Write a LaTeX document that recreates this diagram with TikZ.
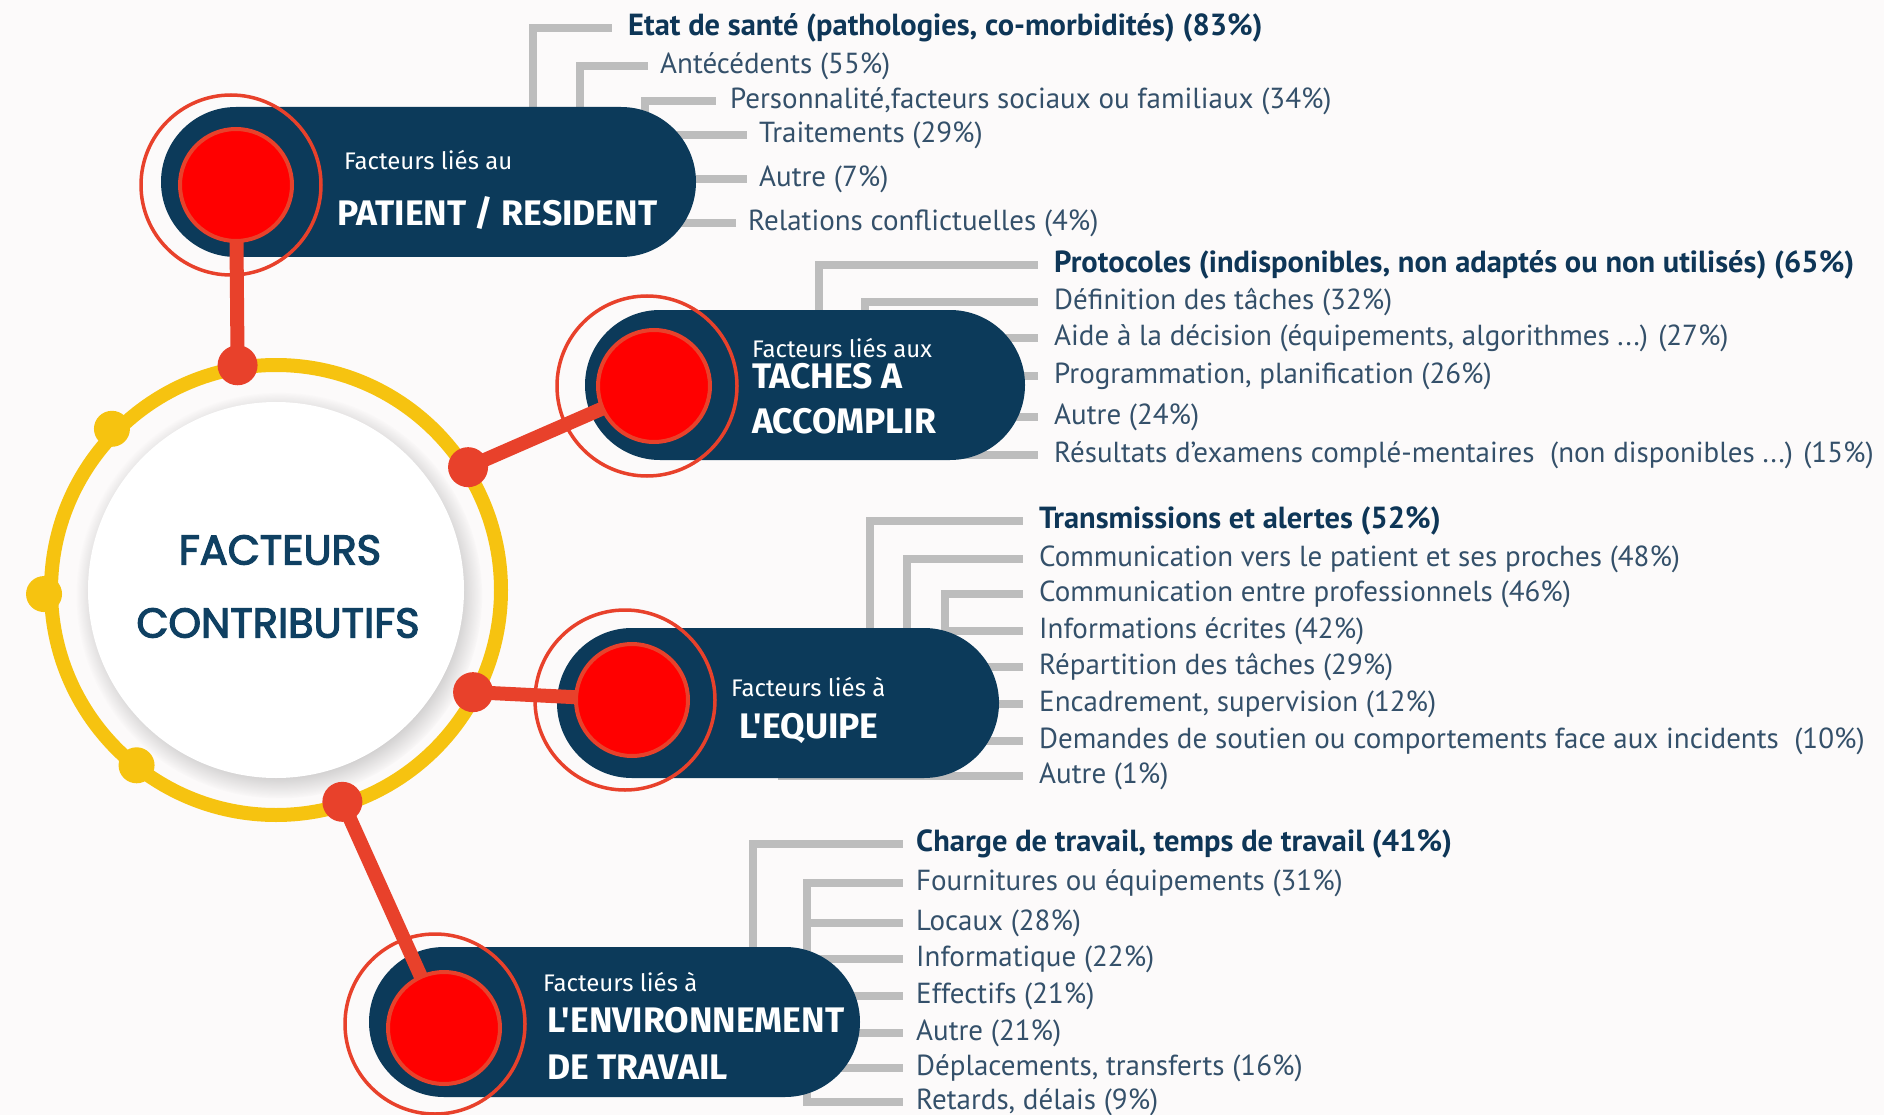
\documentclass[tikz,border=0pt]{standalone}
\usepackage{fontspec}
\setmainfont{PT Sans}
\newfontfamily\boxfont{Fira Sans}
\newfontfamily\hubfont[FakeBold=3]{Poppins}
\usepackage{tikz}
\usetikzlibrary{shapes.misc}
\usetikzlibrary{shadows}
\definecolor{paper}{HTML}{FCFAFA}
\definecolor{navy}{HTML}{0C3A5A}
\definecolor{itemtext}{HTML}{34506A}
\definecolor{leadtext}{HTML}{0E3657}
\definecolor{hubtext}{HTML}{0F4062}
\definecolor{bargray}{HTML}{BDBDBD}
\definecolor{redline}{HTML}{E8412B}
\definecolor{purered}{HTML}{FF0000}
\definecolor{ringyellow}{HTML}{F6C310}
\newcommand{\itemsize}{\fontsize{29}{32}\selectfont}
\newcommand{\leadsize}{\fontsize{30.5}{33}\selectfont\bfseries}
\newcommand{\smallbox}{\boxfont\fontsize{24}{28}\selectfont}
\newcommand{\bigbox}{\boxfont\bfseries\fontsize{35.5}{38}\selectfont}
\newcommand{\hubsize}{\hubfont\fontsize{41.5}{44}\selectfont}

\tikzset{
    pill/.style={shape=rounded rectangle, fill=navy, minimum height=150pt, inner sep=0pt},
    disc/.style={shape=circle, fill=purered, draw=redline, line width=4pt, minimum size=112pt, inner sep=0pt},
    halo/.style={shape=circle, draw=redline, line width=3.5pt, minimum size=180pt, inner sep=0pt},
    link/.style={draw=redline, line width=14pt},
    bar/.style={draw=bargray, line width=8pt},
    rdot/.style={shape=circle, fill=redline, minimum size=40pt, inner sep=0pt},
    ydot/.style={shape=circle, fill=ringyellow, minimum size=36pt, inner sep=0pt},
    entry/.style={anchor=west, inner sep=0pt, text=itemtext, font=\itemsize},
    lead/.style={entry, text=leadtext, font=\leadsize},
    thin/.style={anchor=west, inner sep=0pt, text=white, font=\smallbox},
    thick/.style={anchor=west, inner sep=0pt, text=white, font=\bigbox},
}

\begin{document}
\begin{tikzpicture}[x=1pt,y=-1pt]
    \useasboundingbox (0,0) rectangle (1884,1115);
    \fill[paper] (0,0) rectangle (1884,1115);

    \node[lead]  (P_1) at (628,28)  {Etat de santé (pathologies, co-morbidités) (83\%)};
    \node[entry] (P_2) at (660,66)  {Antécédents (55\%)};
    \node[entry] (P_3) at (730,101) {Personnalité,facteurs sociaux ou familiaux (34\%)};
    \node[entry] (P_4) at (759,135) {Traitements (29\%)};
    \node[entry] (P_5) at (759,179) {Autre (7\%)};
    \node[entry] (P_6) at (748,223) {Relations conflictuelles (4\%)};

    \node[lead]  (T_1) at (1054,265) {Protocoles (indisponibles, non adaptés ou non utilisés) (65\%)};
    \node[entry] (T_2) at (1054,302) {Définition des tâches (32\%)};
    \node[entry] (T_3) at (1054,338) {Aide à la décision (équipements, algorithmes ...) (27\%)};
    \node[entry] (T_4) at (1054,376) {Programmation, planification (26\%)};
    \node[entry] (T_5) at (1054,417) {Autre (24\%)};
    \node[entry] (T_6) at (1054,455) {Résultats d'examens complé-mentaires~ (non disponibles ...) (15\%)};

    \node[lead]  (Q_1) at (1039,521) {Transmissions et alertes (52\%)};
    \node[entry] (Q_2) at (1039,559) {Communication vers le patient et ses proches (48\%)};
    \node[entry] (Q_3) at (1039,594) {Communication entre professionnels (46\%)};
    \node[entry] (Q_4) at (1039,631) {Informations écrites (42\%)};
    \node[entry] (Q_5) at (1039,667) {Répartition des tâches (29\%)};
    \node[entry] (Q_6) at (1039,704) {Encadrement, supervision (12\%)};
    \node[entry] (Q_7) at (1039,741) {Demandes de soutien ou comportements face aux incidents~ (10\%)};
    \node[entry] (Q_8) at (1039,776) {Autre (1\%)};

    \node[lead]  (W_1) at (916,844)  {Charge de travail, temps de travail (41\%)};
    \node[entry] (W_2) at (916,883)  {Fournitures ou équipements (31\%)};
    \node[entry] (W_3) at (916,923)  {Locaux (28\%)};
    \node[entry] (W_4) at (916,959)  {Informatique (22\%)};
    \node[entry] (W_5) at (916,996)  {Effectifs (21\%)};
    \node[entry] (W_6) at (916,1033) {Autre (21\%)};
    \node[entry] (W_7) at (916,1068) {Déplacements, transferts (16\%)};
    \node[entry] (W_8) at (916,1102) {Retards, délais (9\%)};

    \coordinate (C_PR) at (428.5,182);
    \coordinate (C_TA) at (805,385);
    \coordinate (C_EQ) at (778,703);
    \coordinate (C_ET) at (614.5,1022);

    \draw[bar] ([xshift=104.5pt]C_PR) |- ([xshift=-16pt]P_1.west);
    \draw[bar] ([xshift=151.5pt]C_PR) |- ([xshift=-12pt]P_2.west);
    \draw[bar] ([xshift=216pt]C_PR) |- ([xshift=-14pt]P_3.west);
    \draw[bar] (C_PR |- P_4.west) -- ([xshift=-12pt]P_4.west);
    \draw[bar] (C_PR |- P_5.west) -- ([xshift=-12pt]P_5.west);
    \draw[bar] (C_PR |- P_6.west) -- ([xshift=-12pt]P_6.west);

    \draw[bar] ([xshift=14pt]C_TA) |- ([xshift=-16pt]T_1.west);
    \draw[bar] ([xshift=60pt]C_TA) |- ([xshift=-16pt]T_2.west);
    \draw[bar] (C_TA |- T_3.west) -- ([xshift=-16pt]T_3.west);
    \draw[bar] (C_TA |- T_4.west) -- ([xshift=-16pt]T_4.west);
    \draw[bar] (C_TA |- T_5.west) -- ([xshift=-16pt]T_5.west);
    \draw[bar] (C_TA |- T_6.west) -- ([xshift=-16pt]T_6.west);

    \draw[bar] ([xshift=92pt]C_EQ) |- ([xshift=-16pt]Q_1.west);
    \draw[bar] ([xshift=129pt]C_EQ) |- ([xshift=-16pt]Q_2.west);
    \draw[bar] ([xshift=167pt]C_EQ) |- ([xshift=-16pt]Q_3.west);
    \draw[bar] ([xshift=167pt]C_EQ) |- ([xshift=-16pt]Q_4.west);
    \draw[bar] (C_EQ |- Q_5.west) -- ([xshift=-16pt]Q_5.west);
    \draw[bar] (C_EQ |- Q_6.west) -- ([xshift=-16pt]Q_6.west);
    \draw[bar] (C_EQ |- Q_7.west) -- ([xshift=-16pt]Q_7.west);
    \draw[bar] (C_EQ |- Q_8.west) -- ([xshift=-16pt]Q_8.west);

    \draw[bar] ([xshift=138.5pt]C_ET) |- ([xshift=-13pt]W_1.west);
    \draw[bar] ([xshift=192.5pt]C_ET) |- ([xshift=-13pt]W_2.west);
    \draw[bar] ([xshift=192.5pt]C_ET) |- ([xshift=-13pt]W_3.west);
    \draw[bar] ([xshift=192.5pt]C_ET) |- ([xshift=-13pt]W_4.west);
    \draw[bar] ([xshift=192.5pt]C_ET) |- ([xshift=-13pt]W_5.west);
    \draw[bar] ([xshift=192.5pt]C_ET) |- ([xshift=-13pt]W_6.west);
    \draw[bar] ([xshift=192.5pt]C_ET) |- ([xshift=-13pt]W_7.west);
    \draw[bar] ([xshift=192.5pt]C_ET) |- ([xshift=-13pt]W_8.west);

    \node[shape=circle, fill=white, minimum size=376pt, inner sep=0pt,
          circular drop shadow={shadow xshift=3pt, shadow yshift=-5pt, shadow scale=1.08, opacity=0.45}] (F_C) at (276,590) {};
    \draw[draw=ringyellow, line width=14pt] (F_C.center) circle[radius=225pt];
    \node[text=hubtext, font=\hubsize, inner sep=0pt] (H_1) at (280,550) {FACTEURS};
    \node[text=hubtext, font=\hubsize, inner sep=0pt] (H_2) at (278,623) {CONTRIBUTIFS};

    \node[pill, minimum width=535pt] (P_R) at (C_PR) {};
    \node[pill, minimum width=440pt] (T_A) at (C_TA) {};
    \node[pill, minimum width=442pt] (E_Q) at (C_EQ) {};
    \node[pill, minimum width=491pt] (E_T) at (C_ET) {};

    \coordinate (K_1) at ([shift={(99.7:228pt)}]F_C.center);
    \coordinate (K_2) at ([shift={(32.6:228pt)}]F_C.center);
    \coordinate (K_3) at ([shift={(-27.4:222pt)}]F_C.center);
    \coordinate (K_4) at ([shift={(-72.6:222pt)}]F_C.center);
    \coordinate (D_PR) at (236,185);
    \coordinate (D_TA) at (654,386);
    \coordinate (D_EQ) at (632,700);
    \coordinate (D_ET) at (444,1028);

    \draw[link] (K_1) -- (D_PR);
    \draw[link] (K_2) -- (D_TA);
    \draw[link] (K_3) -- (D_EQ);
    \draw[link] (K_4) -- (D_ET);

    \node[halo] (O_PR) at ([xshift=-5pt]D_PR) {};
    \node[halo] (O_TA) at ([xshift=-7pt]D_TA) {};
    \node[halo] (O_EQ) at ([xshift=-7pt]D_EQ) {};
    \node[halo] (O_ET) at ([xshift=-9pt,yshift=4pt]D_ET) {};
    \node[disc] (R_PR) at (D_PR) {};
    \node[disc] (R_TA) at (D_TA) {};
    \node[disc] (R_EQ) at (D_EQ) {};
    \node[disc] (R_ET) at (D_ET) {};

    \node[rdot] (M_1) at (K_1) {};
    \node[rdot] (M_2) at (K_2) {};
    \node[rdot] (M_3) at (K_3) {};
    \node[rdot] (M_4) at (K_4) {};
    \node[ydot] (Y_1) at ([shift={(135.5:230pt)}]F_C.center) {};
    \node[ydot] (Y_2) at ([shift={(181:232pt)}]F_C.center) {};
    \node[ydot] (Y_3) at ([shift={(231.5:224pt)}]F_C.center) {};

    \node[thin]  (L_P1) at (344,160) {Facteurs liés au};
    \node[thick] (L_P2) at (337,213) {PATIENT / RESIDENT};
    \node[thin]  (L_T1) at (752,348) {Facteurs liés aux};
    \node[thick] (L_T2) at (752,376) {TACHES A};
    \node[thick] (L_T3) at (752,421) {ACCOMPLIR};
    \node[thin]  (L_Q1) at (731,687) {Facteurs liés à};
    \node[thick] (L_Q2) at (739,729) {L'EQUIPE};
    \node[thin]  (L_W1) at (543,982) {Facteurs liés à};
    \node[thick] (L_W2) at (547,1020) {L'ENVIRONNEMENT};
    \node[thick] (L_W3) at (547,1067) {DE TRAVAIL};
\end{tikzpicture}
\end{document}
